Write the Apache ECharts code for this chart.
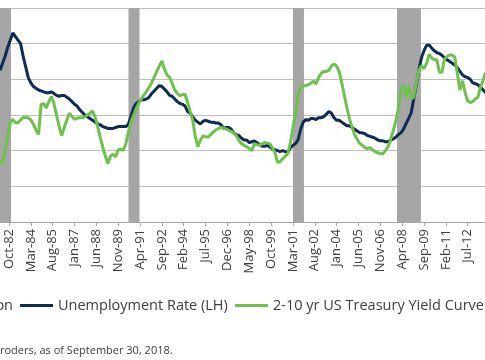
<!DOCTYPE html>
<html>
<head>
<meta charset="utf-8">
<script src="https://cdn.jsdelivr.net/npm/echarts@6/dist/echarts.min.js"></script>
<style>
html,body{margin:0;padding:0;background:#fff;}
#chart{width:485px;height:360px;}
</style>
</head>
<body>
<div id="chart"></div>
<script>
// Series start month and sampling step (months)
const startMonth = 'Mar-82';
const stepMonths = 2;

// Unemployment rate (%), every 2 months from Mar-82 to Sep-13 (left axis)
const unemployment = [
  8.5, 8.9, 9.3, 9.8, 10.2,
  10.6, 10.4, 10.2, 10.0, 9.3, 8.7,
  8.1, 7.8, 7.6, 7.5, 7.4, 7.35,
  7.3, 7.25, 7.25, 7.3, 7.2, 7.1,
  7.05, 7.1, 7.1, 7.0, 6.9, 6.75,
  6.6, 6.5, 6.3, 6.15, 6.0, 5.9,
  5.8, 5.7, 5.6, 5.5, 5.45, 5.35,
  5.3, 5.25, 5.25, 5.25, 5.3, 5.35,
  5.35, 5.35, 5.35, 5.5, 5.95, 6.4,
  6.65, 6.75, 6.85, 6.85, 6.9, 7.0,
  7.2, 7.35, 7.5, 7.65, 7.6, 7.45,
  7.3, 7.1, 7.05, 6.9, 6.75, 6.65,
  6.6, 6.5, 6.2, 6.1, 5.9, 5.7,
  5.6, 5.5, 5.65, 5.7, 5.65, 5.6,
  5.6, 5.55, 5.55, 5.45, 5.25, 5.3,
  5.3, 5.2, 5.0, 4.9, 4.85, 4.7,
  4.6, 4.6, 4.45, 4.5, 4.55, 4.45,
  4.35, 4.25, 4.25, 4.3, 4.2, 4.1,
  4.05, 4.0, 3.95, 4.0, 3.95, 3.9,
  4.15, 4.3, 4.4, 4.6, 5.2, 5.6,
  5.75, 5.7, 5.8, 5.8, 5.75, 5.85,
  5.85, 5.9, 6.05, 6.2, 6.1, 5.85,
  5.7, 5.7, 5.6, 5.5, 5.4, 5.4,
  5.3, 5.2, 5.1, 5.0, 5.0, 4.95,
  4.85, 4.8, 4.75, 4.7, 4.6, 4.55,
  4.55, 4.5, 4.5, 4.6, 4.65, 4.75,
  4.9, 5.0, 5.2, 5.5, 5.8, 6.1,
  6.9, 7.7, 8.5, 9.2, 9.6, 9.9,
  9.93, 9.75, 9.6, 9.5, 9.45, 9.35,
  9.2, 9.1, 9.0, 8.9, 8.8, 8.65,
  8.45, 8.25, 8.15, 8.1, 8.0, 7.8,
  7.75, 7.7, 7.55, 7.4, 7.25
];

// 2-10 yr US Treasury yield curve (%), every 2 months from Mar-82 (right axis)
const yieldCurve = [
  -0.30, -0.35, 0.00, 0.40, 0.80,
  0.88, 0.78, 0.78, 0.86, 0.93, 0.93,
  0.92, 0.86, 0.74, 0.58, 0.45, 1.30,
  1.32, 1.20, 1.38, 1.52, 1.32, 1.00,
  0.68, 0.42, 0.65, 0.86, 1.05, 0.96,
  0.88, 0.91, 0.92, 0.92, 0.95, 1.00,
  1.05, 1.12, 0.95, 0.68, 0.38, 0.10,
  -0.15, -0.36, -0.15, -0.10, -0.17, 0.02,
  0.04, 0.01, 0.20, 0.52, 0.83, 1.00,
  1.17, 1.33, 1.45, 1.56, 1.66, 1.78,
  1.90, 2.06, 2.22, 2.37, 2.52, 2.29,
  2.12, 2.06, 1.89, 1.70, 1.61, 1.54,
  1.57, 1.58, 1.35, 1.10, 0.86, 0.40,
  0.11, 0.30, 0.41, 0.39, 0.38, 0.45,
  0.52, 0.58, 0.62, 0.65, 0.63, 0.61,
  0.57, 0.54, 0.50, 0.42, 0.28, 0.20,
  0.15, 0.11, 0.06, 0.00, 0.20, 0.17,
  0.15, 0.19, 0.23, 0.21, 0.19, 0.08,
  -0.05, -0.33, -0.31, -0.23, -0.16, -0.08,
  0.22, 0.63, 1.05, 1.55, 1.79, 1.81,
  1.83, 1.85, 1.89, 1.95, 1.87, 2.05,
  2.17, 2.22, 2.22, 2.25, 2.38, 2.43,
  2.37, 2.22, 1.90, 1.56, 1.20, 0.90,
  0.66, 0.45, 0.32, 0.20, 0.16, 0.08,
  0.06, 0.08, 0.02, -0.03, -0.06, -0.08,
  -0.09, 0.00, 0.11, 0.31, 0.55, 0.82,
  1.15, 1.68, 1.85, 1.50, 1.80, 1.45,
  1.50, 1.90, 2.25, 2.38, 2.30, 2.45,
  2.70, 2.60, 2.55, 2.55, 2.20, 2.20,
  2.57, 2.64, 2.68, 2.68, 2.62, 2.15,
  1.70, 1.96, 1.63, 1.40, 1.35, 1.38,
  1.45, 1.50, 1.78, 1.96, 2.20
];

// x-axis tick labels
const tickLabels = ['Oct-82','Mar-84','Aug-85','Jan-87','Jun-88','Nov-89','Apr-91','Sep-92',
  'Feb-94','Jul-95','Dec-96','May-98','Oct-99','Mar-01','Aug-02','Jan-04','Jun-05','Nov-06',
  'Apr-08','Sep-09','Feb-11','Jul-12'];

// Recession periods (start, end)
const recessions = [['Jul-81','Nov-82'],['Jul-90','Mar-91'],['Mar-01','Nov-01'],['Dec-07','Jun-09']];

const seriesNames = ['Unemployment Rate (LH)', '2-10 yr US Treasury Yield Curve'];

const MONTHS = ['Jan','Feb','Mar','Apr','May','Jun','Jul','Aug','Sep','Oct','Nov','Dec'];
function monthNum(label) {
  const [m, yy] = label.split('-');
  const y = parseInt(yy, 10);
  const year = y > 50 ? 1900 + y : 2000 + y;
  return year * 12 + MONTHS.indexOf(m);
}
const base = monthNum(startMonth);
const toT = l => monthNum(l) - base;

const xMin = 0, xMax = 377.5;
const tickValues = tickLabels.map(toT);
const labelByT = {};
tickLabels.forEach(l => { labelByT[toT(l)] = l; });

const uData = unemployment.map((v, i) => [i * stepMonths, v]);
const yData = yieldCurve.map((v, i) => [i * stepMonths, v]);

const recAreas = recessions.map(([s, e]) => [
  { xAxis: Math.max(toT(s), xMin) },
  { xAxis: toT(e) + 0.6 }
]);

const chart = echarts.init(document.getElementById('chart'), null, { renderer: 'canvas' });
const font = "'Open Sans', 'Noto Sans', sans-serif";
const legendBase = {
  top: 298, padding: 0,
  icon: 'rect', itemWidth: 33, itemHeight: 3,
  textStyle: { fontSize: 14.5, color: '#404040', fontFamily: font }
};
chart.setOption({
  animation: false,
  backgroundColor: '#fff',
  grid: { left: 0, right: 0, top: 8, bottom: 138, containLabel: false },
  legend: [
    Object.assign({}, legendBase, { data: [seriesNames[0]], left: 20 }),
    Object.assign({}, legendBase, { data: [seriesNames[1]], left: 235 })
  ],
  graphic: [
    { type: 'text', x: 13, y: 305.5, style: { text: 'on', fontSize: 14.5, fill: '#404040', fontFamily: font, textAlign: 'right', textVerticalAlign: 'middle' } },
    { type: 'text', x: 0, y: 345.5, style: { text: 'roders, as of September 30, 2018.', fontSize: 11, fill: '#404040', fontFamily: font, textVerticalAlign: 'top' } }
  ],
  xAxis: {
    type: 'value', min: xMin, max: xMax,
    splitLine: { show: false },
    axisLine: { show: true, lineStyle: { color: '#a6a6a6', width: 1 } },
    axisTick: { show: true, customValues: tickValues, length: 4, lineStyle: { color: '#a6a6a6' } },
    axisLabel: {
      customValues: tickValues, rotate: 90, margin: 7,
      fontSize: 13, color: '#404040', fontFamily: font,
      formatter: v => labelByT[Math.round(v)] || ''
    }
  },
  yAxis: [
    { type: 'value', min: 0, max: 12, interval: 2,
      axisLabel: { show: false }, axisLine: { show: false }, axisTick: { show: false },
      splitLine: { show: true, lineStyle: { color: '#bfbfbf', width: 1 } } },
    { type: 'value', min: -2, max: 4, interval: 1,
      axisLabel: { show: false }, axisLine: { show: false }, axisTick: { show: false },
      splitLine: { show: false } }
  ],
  series: [
    {
      name: seriesNames[0], type: 'line', yAxisIndex: 0, data: uData,
      showSymbol: false, symbol: 'none', z: 3,
      lineStyle: { color: '#0d2b55', width: 3 }, itemStyle: { color: '#0d2b55' },
      markArea: { silent: true, itemStyle: { color: '#a6a6a6' }, data: recAreas }
    },
    {
      name: seriesNames[1], type: 'line', yAxisIndex: 1, data: yData,
      showSymbol: false, symbol: 'none', z: 4,
      lineStyle: { color: '#6cc24a', width: 3 }, itemStyle: { color: '#6cc24a' }
    }
  ]
});
</script>
</body>
</html>
